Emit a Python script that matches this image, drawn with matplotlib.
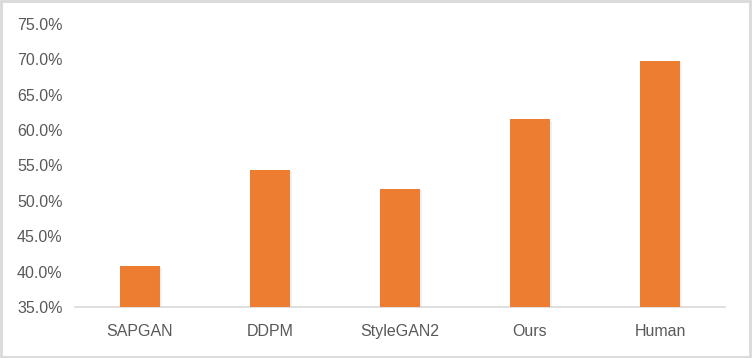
import matplotlib.pyplot as plt
import matplotlib.patheffects as pe
from matplotlib.patches import Rectangle
from matplotlib.ticker import PercentFormatter

# data
models = ['SAPGAN', 'DDPM', 'StyleGAN2', 'Ours', 'Human']
scores = [0.408, 0.544, 0.517, 0.615, 0.697]

plt.rcParams['font.family'] = ['Liberation Sans', 'DejaVu Sans']

fig = plt.figure(figsize=(7.52, 3.58), dpi=100)
ax = fig.add_axes([0.0997, 0.1425, 0.8644, 0.7905])

bars = ax.bar(range(len(models)), scores, width=0.315, color='#ED7D31', zorder=3)
for b in bars:
    b.set_path_effects([pe.SimplePatchShadow(offset=(1.2, -1.2), shadow_rgbFace='#c8c8c8', alpha=0.25),
                        pe.Normal()])

ax.set_ylim(0.35, 0.75)
ax.set_xlim(-0.5, len(models) - 0.5)
ax.yaxis.set_major_formatter(PercentFormatter(1.0, decimals=1))
ax.set_yticks([0.35 + 0.05 * i for i in range(9)])
ax.set_xticks(range(len(models)))
ax.set_xticklabels(models)

for s in ['top', 'right', 'left']:
    ax.spines[s].set_visible(False)
ax.spines['bottom'].set_color('#d9d9d9')
ax.spines['bottom'].set_linewidth(1.2)
ax.tick_params(axis='both', length=0, labelsize=11.5, colors='#595959')
ax.tick_params(axis='y', pad=9)
ax.tick_params(axis='x', pad=12)

# light frame around the whole figure
fig.patches.append(Rectangle((0.001, 0.002), 0.997, 0.995, transform=fig.transFigure,
                             fill=False, edgecolor='#d9d9d9', linewidth=2))

fig.savefig('out.png', dpi=100)
